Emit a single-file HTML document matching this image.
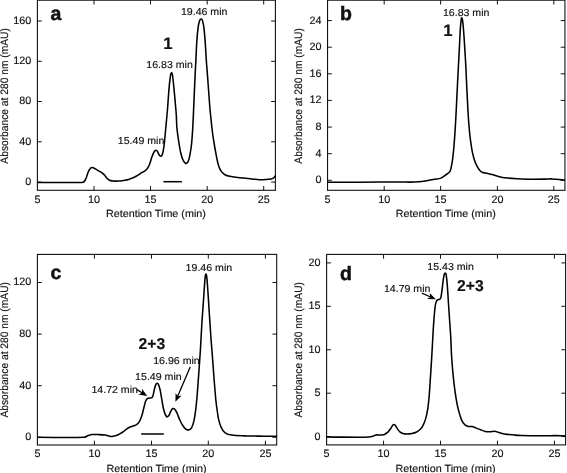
<!DOCTYPE html>
<html lang="en"><head><meta charset="utf-8"><title>Chromatograms</title>
<style>html,body{margin:0;padding:0;background:#fff;}svg{display:block;}text{text-rendering:geometricPrecision;font-family:"Liberation Sans", Arial, Helvetica, sans-serif;fill:#111;}.t{font-size:10.8px;stroke:#111;stroke-width:0.15px;}.x{font-size:10.4px;}.n{font-size:10.1px;stroke:#111;stroke-width:0.15px;}.b{font-size:15.7px;font-weight:bold;stroke:#111;stroke-width:0.15px;}.b1{font-size:16.8px;font-weight:bold;stroke:#111;stroke-width:0.15px;}.L{font-size:19.5px;font-weight:bold;stroke:#111;stroke-width:0.5px;}</style></head><body>
<svg width="567" height="473" viewBox="0 0 567 473">
<rect x="0" y="0" width="567" height="473" fill="#fff"/>
<g id="panel-a">
<rect x="37.4" y="0.2" width="238.0" height="190.1" fill="none" stroke="#111" stroke-width="1.1"/>
<path d="M94.0,190.3v-4.3M94.0,0.2v4.3M150.5,190.3v-4.3M150.5,0.2v4.3M207.2,190.3v-4.3M207.2,0.2v4.3M263.7,190.3v-4.3M263.7,0.2v4.3M37.4,182.1h4.3M275.45,182.1h-4.3M37.4,141.8h4.3M275.45,141.8h-4.3M37.4,101.5h4.3M275.45,101.5h-4.3M37.4,61.3h4.3M275.45,61.3h-4.3M37.4,21.0h4.3M275.45,21.0h-4.3" fill="none" stroke="#111" stroke-width="1"/>
<text class="t" x="37.5" y="203.0" text-anchor="middle">5</text>
<text class="t" x="94.0" y="203.0" text-anchor="middle">10</text>
<text class="t" x="150.5" y="203.0" text-anchor="middle">15</text>
<text class="t" x="207.2" y="203.0" text-anchor="middle">20</text>
<text class="t" x="263.7" y="203.0" text-anchor="middle">25</text>
<text class="t" x="31.2" y="185.0" text-anchor="end">0</text>
<text class="t" x="31.2" y="144.7" text-anchor="end">40</text>
<text class="t" x="31.2" y="104.4" text-anchor="end">80</text>
<text class="t" x="31.2" y="64.2" text-anchor="end">120</text>
<text class="t" x="31.2" y="23.9" text-anchor="end">160</text>
<text class="t x" x="155.9" y="216.8" text-anchor="middle" textLength="100" lengthAdjust="spacingAndGlyphs">Retention Time (min)</text>
<text class="t" transform="translate(7.75,95.9) rotate(-90)" text-anchor="middle" textLength="135.5" lengthAdjust="spacingAndGlyphs">Absorbance at 280 nm (mAU)</text>
<path d="M37.5,182.4C52.2,182.4 67.0,182.7 81.7,182.4C82.6,182.4 83.6,182.2 84.2,181.6C85.2,180.6 85.7,179.1 86.3,177.7C87.1,175.7 87.6,173.5 88.4,171.5C88.8,170.5 89.4,169.5 90.1,168.7C90.5,168.2 91.2,167.7 91.8,167.6C92.4,167.5 93.2,167.7 93.8,168.0C94.9,168.5 95.8,169.2 96.8,169.8C98.2,170.6 99.7,171.3 101.0,172.2C102.2,173.0 103.3,173.9 104.3,174.9C105.3,175.9 105.9,177.2 106.9,178.2C107.6,179.0 108.5,179.8 109.4,180.2C110.4,180.7 111.6,180.8 112.7,180.9C114.4,181.1 116.1,181.2 117.8,181.1C119.7,181.0 121.7,180.7 123.6,180.4C125.3,180.1 127.0,179.9 128.6,179.4C130.3,178.9 132.1,178.2 133.7,177.5C135.2,176.8 136.5,176.0 137.9,175.2C139.0,174.5 140.1,173.6 141.2,172.9C142.3,172.3 143.6,171.9 144.6,171.2C145.6,170.5 146.6,169.5 147.4,168.5C148.3,167.2 149.0,165.8 149.6,164.3C150.5,162.1 150.9,159.7 151.7,157.5C152.3,155.8 153.0,154.1 153.8,152.4C154.1,151.8 154.5,151.1 155.0,150.6C155.2,150.4 155.6,150.2 155.9,150.2C156.3,150.3 156.8,150.5 157.1,150.9C157.7,151.7 158.1,152.9 158.6,153.8C159.0,154.5 159.3,155.2 159.8,155.7C160.1,156.0 160.6,156.3 161.0,156.2C161.4,156.1 161.8,155.6 162.0,155.2C162.5,154.2 162.8,153.1 163.0,152.0C163.6,149.2 164.0,146.3 164.3,143.5C164.9,137.9 165.4,132.4 165.9,126.8C166.5,120.5 167.1,114.3 167.6,108.0C168.0,103.3 168.2,98.7 168.6,94.0C168.9,90.5 169.1,87.1 169.5,83.6C169.8,80.9 170.1,78.3 170.5,75.6C170.6,74.8 170.8,74.0 171.1,73.3C171.2,73.1 171.5,72.8 171.6,72.8C171.8,72.9 172.0,73.3 172.1,73.6C172.4,74.5 172.6,75.5 172.7,76.5C173.1,80.0 173.5,83.4 173.8,86.9C174.3,91.9 174.8,97.0 175.2,102.0C175.6,106.3 176.0,110.7 176.3,115.0C176.6,118.9 176.5,122.9 176.8,126.8C177.2,131.3 177.8,135.7 178.5,140.2C179.1,144.1 179.7,148.0 180.5,151.9C181.1,154.4 181.7,157.0 182.7,159.4C183.2,160.6 184.0,161.9 184.9,162.8C185.2,163.2 186.0,163.5 186.4,163.3C187.0,163.1 187.8,162.3 188.1,161.6C189.0,159.6 189.5,157.4 189.9,155.2C190.6,151.3 191.2,147.4 191.6,143.5C192.2,138.0 192.5,132.4 192.8,126.8C193.2,119.5 193.5,112.3 193.8,105.0C194.1,97.3 194.4,89.6 194.8,81.9C195.1,74.6 195.5,67.4 195.9,60.1C196.2,53.5 196.4,46.8 196.9,40.2C197.2,35.7 197.6,31.2 198.2,26.8C198.5,24.8 198.9,22.8 199.5,20.9C199.7,20.3 200.0,19.8 200.4,19.3C200.6,19.1 200.9,18.9 201.1,18.9C201.4,18.9 201.7,19.2 201.9,19.4C202.2,19.8 202.5,20.4 202.6,20.9C203.1,23.1 203.6,25.3 203.9,27.6C204.5,32.4 204.8,37.2 205.2,42.0C205.6,48.0 205.9,54.0 206.3,60.0C206.5,63.5 206.8,66.9 207.1,70.4C207.3,72.6 207.4,74.7 207.6,76.9C208.0,81.9 208.3,87.0 208.7,92.0C209.1,97.0 209.4,102.0 209.8,107.0C210.1,111.0 210.6,115.0 211.0,119.0C211.3,121.6 211.5,124.2 211.8,126.8C212.3,131.0 212.8,135.3 213.5,139.5C214.3,144.7 215.2,150.0 216.2,155.2C216.7,158.0 217.3,160.8 218.0,163.5C218.4,165.1 218.9,166.8 219.6,168.3C220.2,169.6 220.9,170.9 221.8,172.0C222.7,173.0 223.7,174.1 224.9,174.7C226.4,175.5 228.1,175.9 229.8,176.2C233.1,176.9 236.4,177.3 239.7,177.7C243.8,178.2 247.9,178.5 252.0,178.9C255.3,179.2 258.6,179.7 261.9,179.8C263.6,179.9 265.2,179.5 266.9,179.4C268.3,179.3 269.8,179.3 271.2,179.0C272.1,178.8 272.9,178.3 273.6,177.8C274.3,177.3 274.9,176.5 275.5,175.9" fill="none" stroke="#000" stroke-width="1.55" stroke-linejoin="round" stroke-linecap="butt"/>
<text class="L" x="50.6" y="20.4">a</text>
</g>
<g id="panel-b">
<rect x="327.55" y="0.2" width="237.4" height="190.1" fill="none" stroke="#111" stroke-width="1.1"/>
<path d="M384.2,190.3v-4.3M384.2,0.2v4.3M440.6,190.3v-4.3M440.6,0.2v4.3M497.4,190.3v-4.3M497.4,0.2v4.3M553.8,190.3v-4.3M553.8,0.2v4.3M327.55,180.3h4.3M565.0,180.3h-4.3M327.55,153.7h4.3M565.0,153.7h-4.3M327.55,127.1h4.3M565.0,127.1h-4.3M327.55,100.4h4.3M565.0,100.4h-4.3M327.55,73.8h4.3M565.0,73.8h-4.3M327.55,47.2h4.3M565.0,47.2h-4.3M327.55,20.6h4.3M565.0,20.6h-4.3" fill="none" stroke="#111" stroke-width="1"/>
<text class="t" x="327.55" y="203.0" text-anchor="middle">5</text>
<text class="t" x="384.2" y="203.0" text-anchor="middle">10</text>
<text class="t" x="440.6" y="203.0" text-anchor="middle">15</text>
<text class="t" x="497.4" y="203.0" text-anchor="middle">20</text>
<text class="t" x="553.8" y="203.0" text-anchor="middle">25</text>
<text class="t" x="321.4" y="183.2" text-anchor="end">0</text>
<text class="t" x="321.4" y="156.6" text-anchor="end">4</text>
<text class="t" x="321.4" y="130.0" text-anchor="end">8</text>
<text class="t" x="321.4" y="103.3" text-anchor="end">12</text>
<text class="t" x="321.4" y="76.7" text-anchor="end">16</text>
<text class="t" x="321.4" y="50.1" text-anchor="end">20</text>
<text class="t" x="321.4" y="23.5" text-anchor="end">24</text>
<text class="t x" x="445.8" y="216.8" text-anchor="middle" textLength="100" lengthAdjust="spacingAndGlyphs">Retention Time (min)</text>
<text class="t" transform="translate(302.0,95.9) rotate(-90)" text-anchor="middle" textLength="135.5" lengthAdjust="spacingAndGlyphs">Absorbance at 280 nm (mAU)</text>
<path d="M327.6,182.2C338.4,182.2 349.2,182.2 360.0,182.2C373.3,182.2 386.7,182.0 400.0,182.0C403.3,182.0 406.7,182.1 410.0,182.1C412.8,182.1 415.6,182.0 418.4,181.8C421.2,181.6 424.0,181.2 426.8,180.8C429.3,180.4 431.8,179.8 434.3,179.3C436.5,178.9 438.9,178.9 441.0,178.1C442.5,177.5 443.8,176.3 445.2,175.3C446.8,174.1 448.9,173.2 449.9,171.6C451.0,169.8 451.2,167.4 451.6,165.2C452.2,162.5 452.6,159.7 452.9,156.9C453.3,153.5 453.6,150.2 453.9,146.8C454.3,142.3 454.6,137.9 454.9,133.4C455.2,128.9 455.5,124.5 455.7,120.0C456.1,113.5 456.4,106.9 456.7,100.4C457.1,91.6 457.6,82.8 458.0,74.0C458.5,65.2 458.9,56.4 459.4,47.6C459.7,41.1 460.0,34.5 460.4,28.0C460.6,25.2 460.8,22.3 461.2,19.5C461.3,18.9 461.6,17.8 461.8,17.8C462.0,17.8 462.3,18.9 462.4,19.5C462.8,21.6 463.0,23.8 463.2,26.0C463.6,30.9 464.0,35.8 464.3,40.7C464.8,47.8 465.2,54.9 465.6,62.0C466.1,70.7 466.4,79.3 466.8,88.0C467.3,97.4 467.7,106.9 468.3,116.3C468.6,121.4 469.0,126.6 469.5,131.7C469.8,135.1 470.2,138.4 470.7,141.8C471.2,145.1 471.6,148.5 472.3,151.8C472.9,154.6 473.6,157.5 474.5,160.2C475.2,162.2 476.0,164.2 477.0,166.1C477.7,167.4 478.5,168.7 479.5,169.9C480.2,170.8 481.1,171.8 482.1,172.3C483.6,173.0 485.4,172.9 487.1,173.3C488.8,173.7 490.5,174.0 492.1,174.5C493.8,175.0 495.4,175.6 497.1,176.1C498.6,176.5 500.0,177.0 501.5,177.3C503.5,177.7 505.6,177.9 507.7,178.1C510.9,178.4 514.0,178.6 517.2,178.8C521.7,179.0 526.2,179.2 530.7,179.2C535.2,179.3 539.8,179.2 544.3,179.1C547.0,179.1 549.8,178.8 552.5,178.9C554.8,179.0 557.0,179.4 559.3,179.6C561.2,179.8 563.1,179.9 565.0,180.1" fill="none" stroke="#000" stroke-width="1.55" stroke-linejoin="round" stroke-linecap="butt"/>
<text class="L" x="340.0" y="19.9">b</text>
</g>
<g id="panel-c">
<rect x="37.4" y="254.4" width="239.3" height="190.6" fill="none" stroke="#111" stroke-width="1.1"/>
<path d="M94.4,445.0v-4.3M94.4,254.4v4.3M151.5,445.0v-4.3M151.5,254.4v4.3M208.3,445.0v-4.3M208.3,254.4v4.3M265.4,445.0v-4.3M265.4,254.4v4.3M37.4,437.3h4.3M276.75,437.3h-4.3M37.4,385.7h4.3M276.75,385.7h-4.3M37.4,334.1h4.3M276.75,334.1h-4.3M37.4,282.5h4.3M276.75,282.5h-4.3" fill="none" stroke="#111" stroke-width="1"/>
<text class="t" x="37.5" y="457.3" text-anchor="middle">5</text>
<text class="t" x="94.4" y="457.3" text-anchor="middle">10</text>
<text class="t" x="151.5" y="457.3" text-anchor="middle">15</text>
<text class="t" x="208.3" y="457.3" text-anchor="middle">20</text>
<text class="t" x="265.4" y="457.3" text-anchor="middle">25</text>
<text class="t" x="31.2" y="440.2" text-anchor="end">0</text>
<text class="t" x="31.2" y="388.6" text-anchor="end">40</text>
<text class="t" x="31.2" y="337.0" text-anchor="end">80</text>
<text class="t" x="31.2" y="285.4" text-anchor="end">120</text>
<text class="t x" x="156.6" y="471.5" text-anchor="middle" textLength="100" lengthAdjust="spacingAndGlyphs">Retention Time (min)</text>
<text class="t" transform="translate(7.6,349.8) rotate(-90)" text-anchor="middle" textLength="135.5" lengthAdjust="spacingAndGlyphs">Absorbance at 280 nm (mAU)</text>
<path d="M37.5,437.3C53.1,437.3 68.7,437.8 84.2,437.3C85.4,437.3 86.4,436.2 87.6,435.8C89.0,435.3 90.4,434.8 91.8,434.6C94.0,434.4 96.3,434.5 98.5,434.6C100.7,434.7 103.0,434.8 105.2,435.1C107.2,435.4 109.1,436.4 111.0,436.5C112.7,436.6 114.5,436.1 116.1,435.6C117.5,435.1 118.9,434.4 120.2,433.6C121.7,432.8 123.0,431.8 124.4,430.8C125.8,429.8 127.1,428.6 128.6,427.8C129.9,427.1 131.4,426.6 132.8,426.1C133.9,425.7 135.2,425.5 136.2,424.9C137.4,424.1 138.5,423.1 139.2,421.9C140.3,420.1 141.0,418.0 141.7,416.0C142.5,413.6 143.0,411.0 143.7,408.5C144.3,406.3 144.7,404.0 145.4,401.8C145.8,400.8 146.3,399.6 147.0,398.9C147.5,398.4 148.3,398.4 149.0,398.2C149.7,398.0 150.5,398.2 151.2,397.9C151.8,397.6 152.4,397.2 152.7,396.6C153.2,395.5 153.3,394.2 153.6,393.0C154.0,391.5 154.2,389.9 154.6,388.4C155.0,387.0 155.3,385.6 155.9,384.4C156.1,383.9 156.7,383.2 157.1,383.2C157.5,383.2 158.2,383.9 158.4,384.4C159.1,385.9 159.6,387.7 160.0,389.4C160.7,392.4 161.1,395.4 161.6,398.4C162.2,401.6 162.6,404.8 163.3,408.0C163.8,410.2 164.4,412.3 165.2,414.4C165.5,415.2 166.0,416.0 166.6,416.6C166.8,416.8 167.3,416.9 167.6,416.7C168.2,416.3 168.8,415.6 169.2,414.9C169.9,413.7 170.3,412.1 171.0,410.9C171.5,410.0 172.1,408.9 172.9,408.6C173.4,408.4 174.4,408.8 174.8,409.3C175.8,410.4 176.4,411.9 177.1,413.3C178.1,415.5 178.8,418.0 179.9,420.2C180.9,422.4 182.0,424.5 183.4,426.5C184.2,427.6 185.2,428.8 186.4,429.5C187.2,429.9 188.4,430.1 189.2,429.8C190.1,429.5 191.0,428.7 191.5,427.9C192.6,425.9 193.3,423.6 193.8,421.4C194.7,417.6 195.2,413.7 195.7,409.8C196.4,404.4 196.8,398.9 197.3,393.5C197.9,385.7 198.4,378.0 199.0,370.2C199.4,364.0 199.9,357.8 200.3,351.6C200.8,343.2 201.2,334.7 201.7,326.3C202.1,319.6 202.6,312.9 203.1,306.2C203.5,300.2 203.9,294.2 204.3,288.2C204.5,284.7 204.8,281.1 205.1,277.6C205.2,276.6 205.4,275.6 205.6,274.6C205.7,274.4 205.9,274.0 206.0,274.0C206.1,274.0 206.3,274.5 206.4,274.8C206.6,275.9 206.8,277.0 206.9,278.1C207.4,283.5 207.7,288.8 208.1,294.2C208.6,301.6 209.0,308.9 209.5,316.3C209.9,322.3 210.3,328.3 210.7,334.3C210.9,337.9 211.2,341.4 211.5,345.0C211.8,348.8 212.1,352.5 212.4,356.3C213.0,364.0 213.5,371.8 214.1,379.5C214.7,386.5 215.2,393.5 215.9,400.5C216.3,404.3 216.8,408.2 217.4,412.0C217.8,414.6 218.1,417.3 218.7,419.9C219.3,422.4 220.1,425.0 221.2,427.3C222.0,429.0 223.0,430.7 224.3,432.0C225.3,433.0 226.7,433.8 228.0,434.3C229.7,434.9 231.6,435.1 233.5,435.3C237.6,435.7 241.8,435.8 245.9,435.9C252.1,436.1 258.2,436.1 264.4,436.2C268.6,436.2 272.8,436.2 277.0,436.2" fill="none" stroke="#000" stroke-width="1.55" stroke-linejoin="round" stroke-linecap="butt"/>
<text class="L" x="50.6" y="279.3">c</text>
</g>
<g id="panel-d">
<rect x="326.6" y="254.4" width="239.0" height="190.5" fill="none" stroke="#111" stroke-width="1.1"/>
<path d="M383.55,444.95v-4.3M383.55,254.4v4.3M440.5,444.95v-4.3M440.5,254.4v4.3M497.45,444.95v-4.3M497.45,254.4v4.3M554.4,444.95v-4.3M554.4,254.4v4.3M326.6,436.6h4.3M565.65,436.6h-4.3M326.6,393.2h4.3M565.65,393.2h-4.3M326.6,349.75h4.3M565.65,349.75h-4.3M326.6,306.3h4.3M565.65,306.3h-4.3M326.6,262.9h4.3M565.65,262.9h-4.3" fill="none" stroke="#111" stroke-width="1"/>
<text class="t" x="326.6" y="457.3" text-anchor="middle">5</text>
<text class="t" x="383.55" y="457.3" text-anchor="middle">10</text>
<text class="t" x="440.5" y="457.3" text-anchor="middle">15</text>
<text class="t" x="497.45" y="457.3" text-anchor="middle">20</text>
<text class="t" x="554.4" y="457.3" text-anchor="middle">25</text>
<text class="t" x="320.4" y="439.5" text-anchor="end">0</text>
<text class="t" x="320.4" y="396.1" text-anchor="end">5</text>
<text class="t" x="320.4" y="352.6" text-anchor="end">10</text>
<text class="t" x="320.4" y="309.2" text-anchor="end">15</text>
<text class="t" x="320.4" y="265.8" text-anchor="end">20</text>
<text class="t x" x="445.6" y="471.5" text-anchor="middle" textLength="100" lengthAdjust="spacingAndGlyphs">Retention Time (min)</text>
<text class="t" transform="translate(302.15,349.8) rotate(-90)" text-anchor="middle" textLength="135.5" lengthAdjust="spacingAndGlyphs">Absorbance at 280 nm (mAU)</text>
<path d="M326.7,436.9C331.7,437.0 336.8,437.1 341.8,437.1C347.4,437.2 352.9,437.2 358.5,437.2C361.9,437.2 365.3,437.2 368.6,437.0C370.0,436.9 371.4,436.6 372.8,436.2C373.9,435.9 375.0,435.1 376.1,434.9C377.5,434.7 378.9,435.1 380.3,435.0C381.7,434.9 383.2,435.0 384.5,434.5C385.7,434.0 386.8,433.1 387.8,432.2C388.9,431.1 389.8,429.8 390.7,428.5C391.5,427.4 392.1,426.1 392.9,425.1C393.2,424.8 393.6,424.5 394.0,424.6C394.5,424.7 395.1,425.1 395.4,425.5C396.2,426.5 396.7,427.8 397.4,428.8C398.2,429.9 398.9,431.0 399.9,431.8C400.8,432.5 401.8,433.2 402.9,433.5C404.2,433.9 405.7,434.0 407.1,434.0C408.8,434.0 410.5,433.8 412.1,433.5C413.6,433.2 415.2,432.7 416.6,432.0C418.1,431.2 419.6,430.1 420.8,428.8C422.0,427.5 422.8,425.8 423.6,424.2C424.5,422.2 425.3,420.1 425.9,417.9C426.7,414.9 427.3,411.7 427.8,408.6C428.4,404.4 428.8,400.1 429.2,395.8C429.7,390.4 429.9,384.9 430.3,379.5C430.7,373.3 431.1,367.1 431.5,360.9C431.8,355.6 432.1,350.3 432.4,345.0C432.7,340.1 432.9,335.2 433.2,330.3C433.5,325.6 433.8,321.0 434.2,316.3C434.5,312.9 434.7,309.5 435.2,306.2C435.4,304.5 435.8,302.7 436.4,301.2C436.6,300.6 437.2,300.1 437.8,299.8C438.3,299.5 439.1,299.7 439.6,299.4C440.1,299.1 440.6,298.4 440.8,297.8C441.4,295.4 441.7,292.7 442.0,290.2C442.5,286.8 442.7,283.5 443.2,280.1C443.5,278.2 443.8,276.3 444.2,274.5C444.3,274.1 444.5,273.6 444.8,273.3C444.9,273.2 445.2,273.1 445.3,273.1C445.5,273.2 445.7,273.4 445.8,273.6C446.0,274.2 446.2,274.9 446.3,275.6C446.7,278.4 447.0,281.3 447.2,284.1C447.7,290.1 448.0,296.2 448.4,302.2C448.8,308.2 449.2,314.3 449.6,320.3C450.0,326.2 450.5,332.1 450.8,338.0C451.1,344.1 451.2,350.2 451.6,356.3C452.0,362.5 452.5,368.7 453.1,374.9C453.6,380.3 454.2,385.8 455.0,391.2C455.6,395.9 456.4,400.5 457.3,405.1C457.9,408.2 458.8,411.3 459.7,414.4C460.4,416.6 461.0,418.9 462.0,420.9C462.7,422.4 463.8,423.8 465.0,424.9C465.9,425.7 467.1,426.2 468.3,426.5C469.5,426.8 470.8,426.3 472.0,426.5C473.3,426.7 474.6,427.4 475.9,427.9C477.5,428.5 479.0,429.2 480.6,429.8C482.1,430.4 483.6,431.1 485.2,431.4C486.7,431.7 488.3,431.7 489.9,431.7C491.5,431.7 493.1,431.2 494.7,431.3C495.9,431.4 497.0,431.9 498.1,432.2C499.5,432.6 500.8,433.3 502.2,433.6C504.4,434.1 506.7,434.3 509.0,434.6C510.8,434.8 512.6,435.0 514.4,435.1C516.7,435.3 518.9,435.5 521.2,435.6C524.4,435.7 527.5,435.7 530.7,435.7C535.2,435.7 539.8,435.8 544.3,435.8C547.9,435.8 551.6,435.6 555.2,435.6C557.0,435.6 558.8,435.7 560.6,435.8C562.3,435.9 564.0,436.0 565.7,436.1" fill="none" stroke="#000" stroke-width="1.55" stroke-linejoin="round" stroke-linecap="butt"/>
<text class="L" x="340.0" y="279.5">d</text>
</g>
<g id="annotations">
<text class="n" transform="translate(146.3,68.0) scale(1.05,1)">16.83 min</text>
<text class="n" transform="translate(180.9,15.4) scale(1.05,1)">19.46 min</text>
<text class="n" transform="translate(117.8,144.4) scale(1.05,1)">15.49 min</text>
<text class="b1" x="163.2" y="49.4" text-anchor="start">1</text>
<line x1="163.4" y1="181.7" x2="181.9" y2="181.7" stroke="#000" stroke-width="1.5"/>
<text class="n" transform="translate(442.9,15.6) scale(1.05,1)">16.83 min</text>
<text class="b1" x="443.3" y="36.4" text-anchor="start">1</text>
<text class="n" transform="translate(185.6,270.7) scale(1.05,1)">19.46 min</text>
<text class="n" transform="translate(153.2,363.8) scale(1.05,1)">16.96 min</text>
<text class="n" transform="translate(135.1,380.0) scale(1.05,1)">15.49 min</text>
<text class="n" transform="translate(91.4,392.5) scale(1.05,1)">14.72 min</text>
<text class="b" x="138.5" y="348.5" text-anchor="start">2+3</text>
<line x1="141.2" y1="434.0" x2="163.8" y2="434.0" stroke="#000" stroke-width="1.5"/>
<line x1="190.2" y1="367.0" x2="177.6" y2="396.5" stroke="#000" stroke-width="1.3"/>
<polygon points="175.4,401.7 175.6,392.9 177.8,396.2 181.7,395.5" fill="#000"/>
<line x1="137.0" y1="389.6" x2="142.4" y2="393.0" stroke="#000" stroke-width="1.3"/>
<polygon points="147.2,396.0 138.5,394.4 142.1,392.8 142.0,388.8" fill="#000"/>
<text class="n" transform="translate(427.3,269.7) scale(1.05,1)">15.43 min</text>
<text class="n" transform="translate(383.9,291.7) scale(1.05,1)">14.79 min</text>
<text class="b" x="457.0" y="291.4" text-anchor="start">2+3</text>
<line x1="421.9" y1="293.2" x2="430.6" y2="297.0" stroke="#000" stroke-width="1.3"/>
<polygon points="435.8,299.3 427.0,299.0 430.3,296.9 429.6,293.0" fill="#000"/>
</g>
</svg></body></html>
